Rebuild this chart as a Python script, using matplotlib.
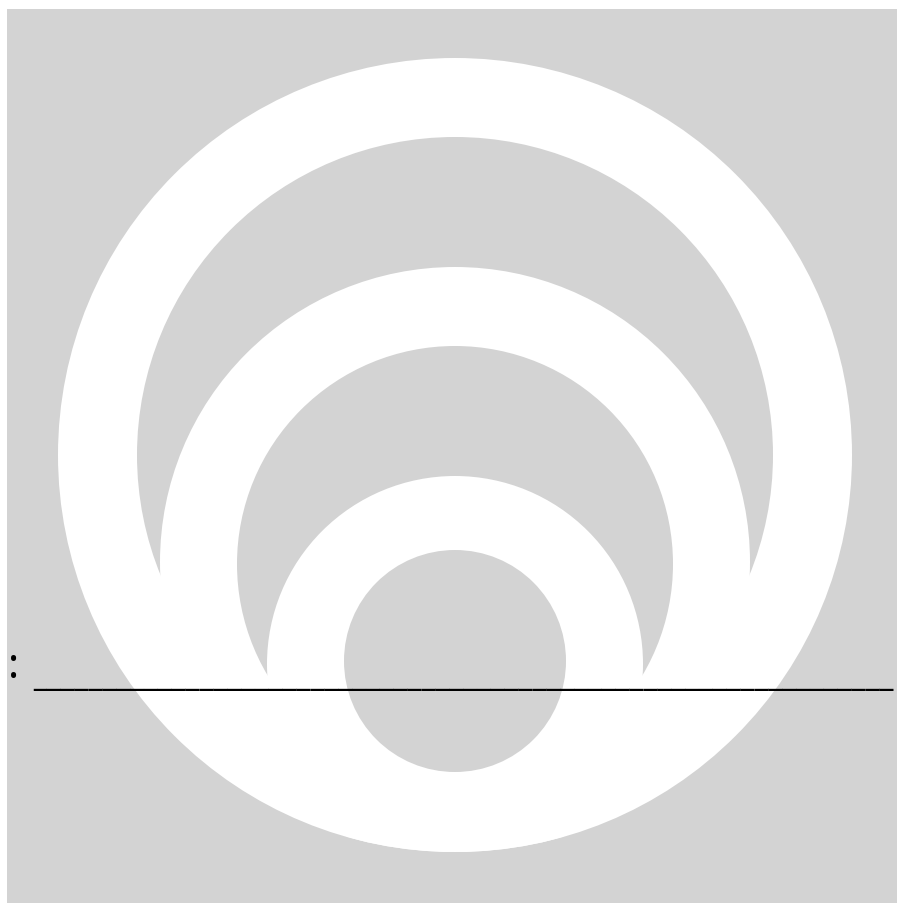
import matplotlib.pyplot as plt
from matplotlib.patches import Rectangle, Circle

# circles drawn back to front: (centre x, centre y, radius, colour) in pixel units
circle_x = [455, 455, 455, 455, 455, 455]
circle_y = [456, 456, 563, 565, 665, 662]
circle_r = [397, 318, 295, 218, 188, 111]
circle_fill = ['white', 'lightgray', 'white', 'lightgray', 'white', 'lightgray']

label_text = ':'
blank_text = '_' * 62

fig = plt.figure(figsize=(8.97, 9.04), dpi=100)
ax = fig.add_axes([0, 0, 1, 1])
ax.set_xlim(0, 897)
ax.set_ylim(904, 0)
ax.axis('off')

# gray backdrop
ax.add_patch(Rectangle((7, 10), 890, 894, facecolor='lightgray', edgecolor='none'))

outer = None
for x, y, r, c in zip(circle_x, circle_y, circle_r, circle_fill):
    p = ax.add_patch(Circle((x, y), r, facecolor=c, edgecolor='none'))
    if outer is None:
        outer = p
    else:
        # everything stays inside the big white disc
        p.set_clip_path(outer)

ax.text(8, 667, label_text, fontsize=30, fontweight='heavy', family='Noto Sans',
        color='black', ha='left', va='center')
ax.text(33, 691, blank_text, fontsize=20, color='black', ha='left', va='bottom')

fig.savefig('out.png', dpi=100)
